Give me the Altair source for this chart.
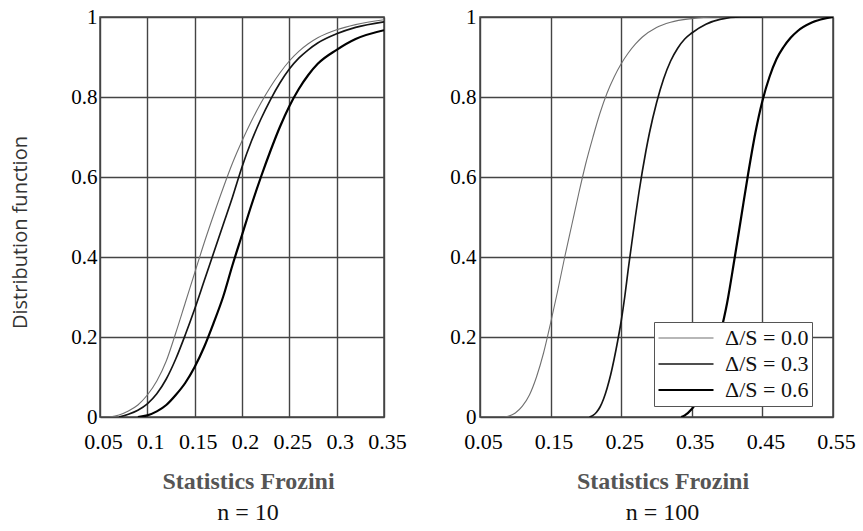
import altair as alt
import pandas as pd

series_labels = ["Δ/S = 0.0", "Δ/S = 0.3", "Δ/S = 0.6"]

# Distribution function of the Frozini statistic, n = 10
n10_x_s00 = [0.06, 0.07, 0.08, 0.09, 0.10, 0.11, 0.12, 0.13, 0.14, 0.15, 0.16, 0.17, 0.18,
             0.19, 0.20, 0.21, 0.22, 0.23, 0.24, 0.25, 0.26, 0.27, 0.28, 0.30, 0.32, 0.35]
n10_f_s00 = [0.0, 0.005, 0.015, 0.03, 0.055, 0.09, 0.14, 0.21, 0.285, 0.36, 0.435, 0.505, 0.572,
             0.635, 0.69, 0.74, 0.785, 0.825, 0.86, 0.89, 0.914, 0.933, 0.948, 0.968, 0.981, 0.993]

n10_x_s03 = [0.07, 0.08, 0.09, 0.10, 0.11, 0.12, 0.13, 0.14, 0.15, 0.16, 0.17, 0.18, 0.19,
             0.20, 0.21, 0.22, 0.23, 0.24, 0.25, 0.26, 0.27, 0.28, 0.30, 0.32, 0.35]
n10_f_s03 = [0.0, 0.007, 0.017, 0.033, 0.058, 0.095, 0.145, 0.205, 0.27, 0.34, 0.41, 0.48, 0.55,
             0.625, 0.69, 0.745, 0.793, 0.835, 0.87, 0.897, 0.918, 0.935, 0.958, 0.974, 0.988]

n10_x_s06 = [0.09, 0.10, 0.11, 0.12, 0.13, 0.14, 0.15, 0.16, 0.17, 0.18, 0.19, 0.20, 0.21,
             0.22, 0.23, 0.24, 0.25, 0.26, 0.27, 0.28, 0.30, 0.32, 0.35]
n10_f_s06 = [0.0, 0.004, 0.014, 0.03, 0.055, 0.085, 0.125, 0.175, 0.235, 0.3, 0.38, 0.455, 0.53,
             0.6, 0.665, 0.725, 0.777, 0.82, 0.855, 0.883, 0.918, 0.945, 0.967]

# Distribution function of the Frozini statistic, n = 100
n100_x_s00 = [0.085, 0.09, 0.10, 0.11, 0.12, 0.13, 0.14, 0.15, 0.16, 0.17, 0.18, 0.19, 0.20,
              0.21, 0.22, 0.23, 0.24, 0.25, 0.26, 0.27, 0.28, 0.30, 0.32, 0.35, 0.38, 0.45]
n100_f_s00 = [0.0, 0.002, 0.01, 0.027, 0.055, 0.10, 0.16, 0.235, 0.315, 0.40, 0.48, 0.56, 0.635,
              0.70, 0.76, 0.81, 0.85, 0.883, 0.91, 0.932, 0.95, 0.974, 0.987, 0.996, 1.0, 1.0]

n100_x_s03 = [0.205, 0.21, 0.215, 0.22, 0.225, 0.23, 0.235, 0.24, 0.245, 0.25, 0.255, 0.26,
              0.265, 0.27, 0.275, 0.28, 0.285, 0.29, 0.30, 0.31, 0.32, 0.33, 0.34, 0.35,
              0.37, 0.39, 0.42, 0.45]
n100_f_s03 = [0.0, 0.004, 0.012, 0.025, 0.045, 0.072, 0.105, 0.145, 0.19, 0.24, 0.30, 0.37,
              0.435, 0.50, 0.56, 0.615, 0.665, 0.71, 0.785, 0.845, 0.89, 0.922, 0.945, 0.96,
              0.982, 0.994, 1.0, 1.0]

n100_x_s06 = [0.335, 0.34, 0.35, 0.36, 0.37, 0.38, 0.39, 0.40, 0.41, 0.42, 0.43, 0.44,
              0.45, 0.46, 0.47, 0.48, 0.49, 0.50, 0.52, 0.55]
n100_f_s06 = [0.0, 0.004, 0.02, 0.045, 0.085, 0.14, 0.205, 0.285, 0.39, 0.50, 0.61, 0.71,
              0.79, 0.85, 0.895, 0.925, 0.948, 0.965, 0.986, 1.0]

n10_ticks = [0.05, 0.1, 0.15, 0.2, 0.25, 0.3, 0.35]
n100_ticks = [0.05, 0.15, 0.25, 0.35, 0.45, 0.55]
f_ticks = [0, 0.2, 0.4, 0.6, 0.8, 1]


def long_table(curves):
    rows = []
    for label, xs, fs in curves:
        for i, (x, f) in enumerate(zip(xs, fs)):
            rows.append({"series": label, "x": x, "F": f, "i": i})
    return pd.DataFrame(rows)


df10 = long_table([
    (series_labels[0], n10_x_s00, n10_f_s00),
    (series_labels[1], n10_x_s03, n10_f_s03),
    (series_labels[2], n10_x_s06, n10_f_s06),
])
df100 = long_table([
    (series_labels[0], n100_x_s00, n100_f_s00),
    (series_labels[1], n100_x_s03, n100_f_s03),
    (series_labels[2], n100_x_s06, n100_f_s06),
])

SERIF = "Liberation Serif"
W10, W100, H = 284, 353, 400

color_scale = alt.Scale(domain=series_labels, range=["#707070", "#141414", "#000000"])
width_scale = alt.Scale(domain=series_labels, range=[1.1, 2.2, 3.2])

key = alt.Legend(
    title=None, orient="none", legendX=174, legendY=305,
    symbolType="stroke", symbolSize=3025, clipHeight=26, rowPadding=0,
    labelFont=SERIF, labelFontSize=22, labelColor="#111", labelOffset=10,
    padding=3, fillColor="white", strokeColor="#555", cornerRadius=0,
)


def x_axis(ticks, w):
    return alt.Axis(
        values=ticks, format=".2~f", title="Statistics Frozini",
        titleFont=SERIF, titleFontSize=24, titleFontWeight="bold", titleColor="#555",
        titleY=64, titleX=w / 2 + 6, titleBaseline="middle",
        labelFont=SERIF, labelFontSize=22, labelColor="#000",
        labelPadding=14, labelOffset=3, labelFlush=False, labelOverlap=False,
    )


def y_axis(title, pad):
    kw = dict(values=f_ticks, format=".1~f", labelFont=SERIF, labelFontSize=21,
              labelColor="#000", labelPadding=pad, labelOffset=0,
              labelFlush=False, labelOverlap=False)
    if title:
        kw.update(title=title, titleFont="Open Sans", titleFontSize=20,
                  titleFontWeight="normal", titleColor="#333",
                  titleX=-80, titleY=215, titleAngle=270,
                  titleAlign="center", titleBaseline="middle")
    else:
        kw.update(title=None)
    return alt.Axis(**kw)


def panel(df, domain, ticks, w, ytitle, ypad, legend, caption):
    return alt.Chart(df).mark_line(interpolate="monotone", clip=True).encode(
        x=alt.X("x:Q", scale=alt.Scale(domain=domain, nice=False, zero=False),
                axis=x_axis(ticks, w)),
        y=alt.Y("F:Q", scale=alt.Scale(domain=[0, 1], nice=False),
                axis=y_axis(ytitle, ypad)),
        color=alt.Color("series:O", scale=color_scale, legend=legend),
        strokeWidth=alt.StrokeWidth("series:O", scale=width_scale, legend=legend),
        detail="series:N",
        order="i:Q",
    ).properties(
        width=w, height=H,
        title=alt.TitleParams(caption, orient="bottom", font=SERIF, fontSize=24,
                              fontWeight="normal", color="#111", offset=8,
                              frame="group", anchor="middle", dx=6),
    )


left = panel(df10, [0.05, 0.35], n10_ticks, W10, "Distribution function", 3, None, "n = 10")
right = panel(df100, [0.05, 0.55], n100_ticks, W100, None, 4, key, "n = 100")

chart = alt.hconcat(left, right, spacing=96, bounds="flush").resolve_scale(
    color="independent", strokeWidth="independent"
).properties(
    padding={"left": 9, "top": 5, "right": 5, "bottom": 0},
    background="white",
).configure_view(
    stroke="#444", strokeWidth=1.5,
).configure_axis(
    grid=True, gridColor="#444", gridWidth=1.4, gridOpacity=1,
    domain=False, ticks=False,
)

chart.save("out.html", embed_options={"renderer": "svg", "actions": False})
